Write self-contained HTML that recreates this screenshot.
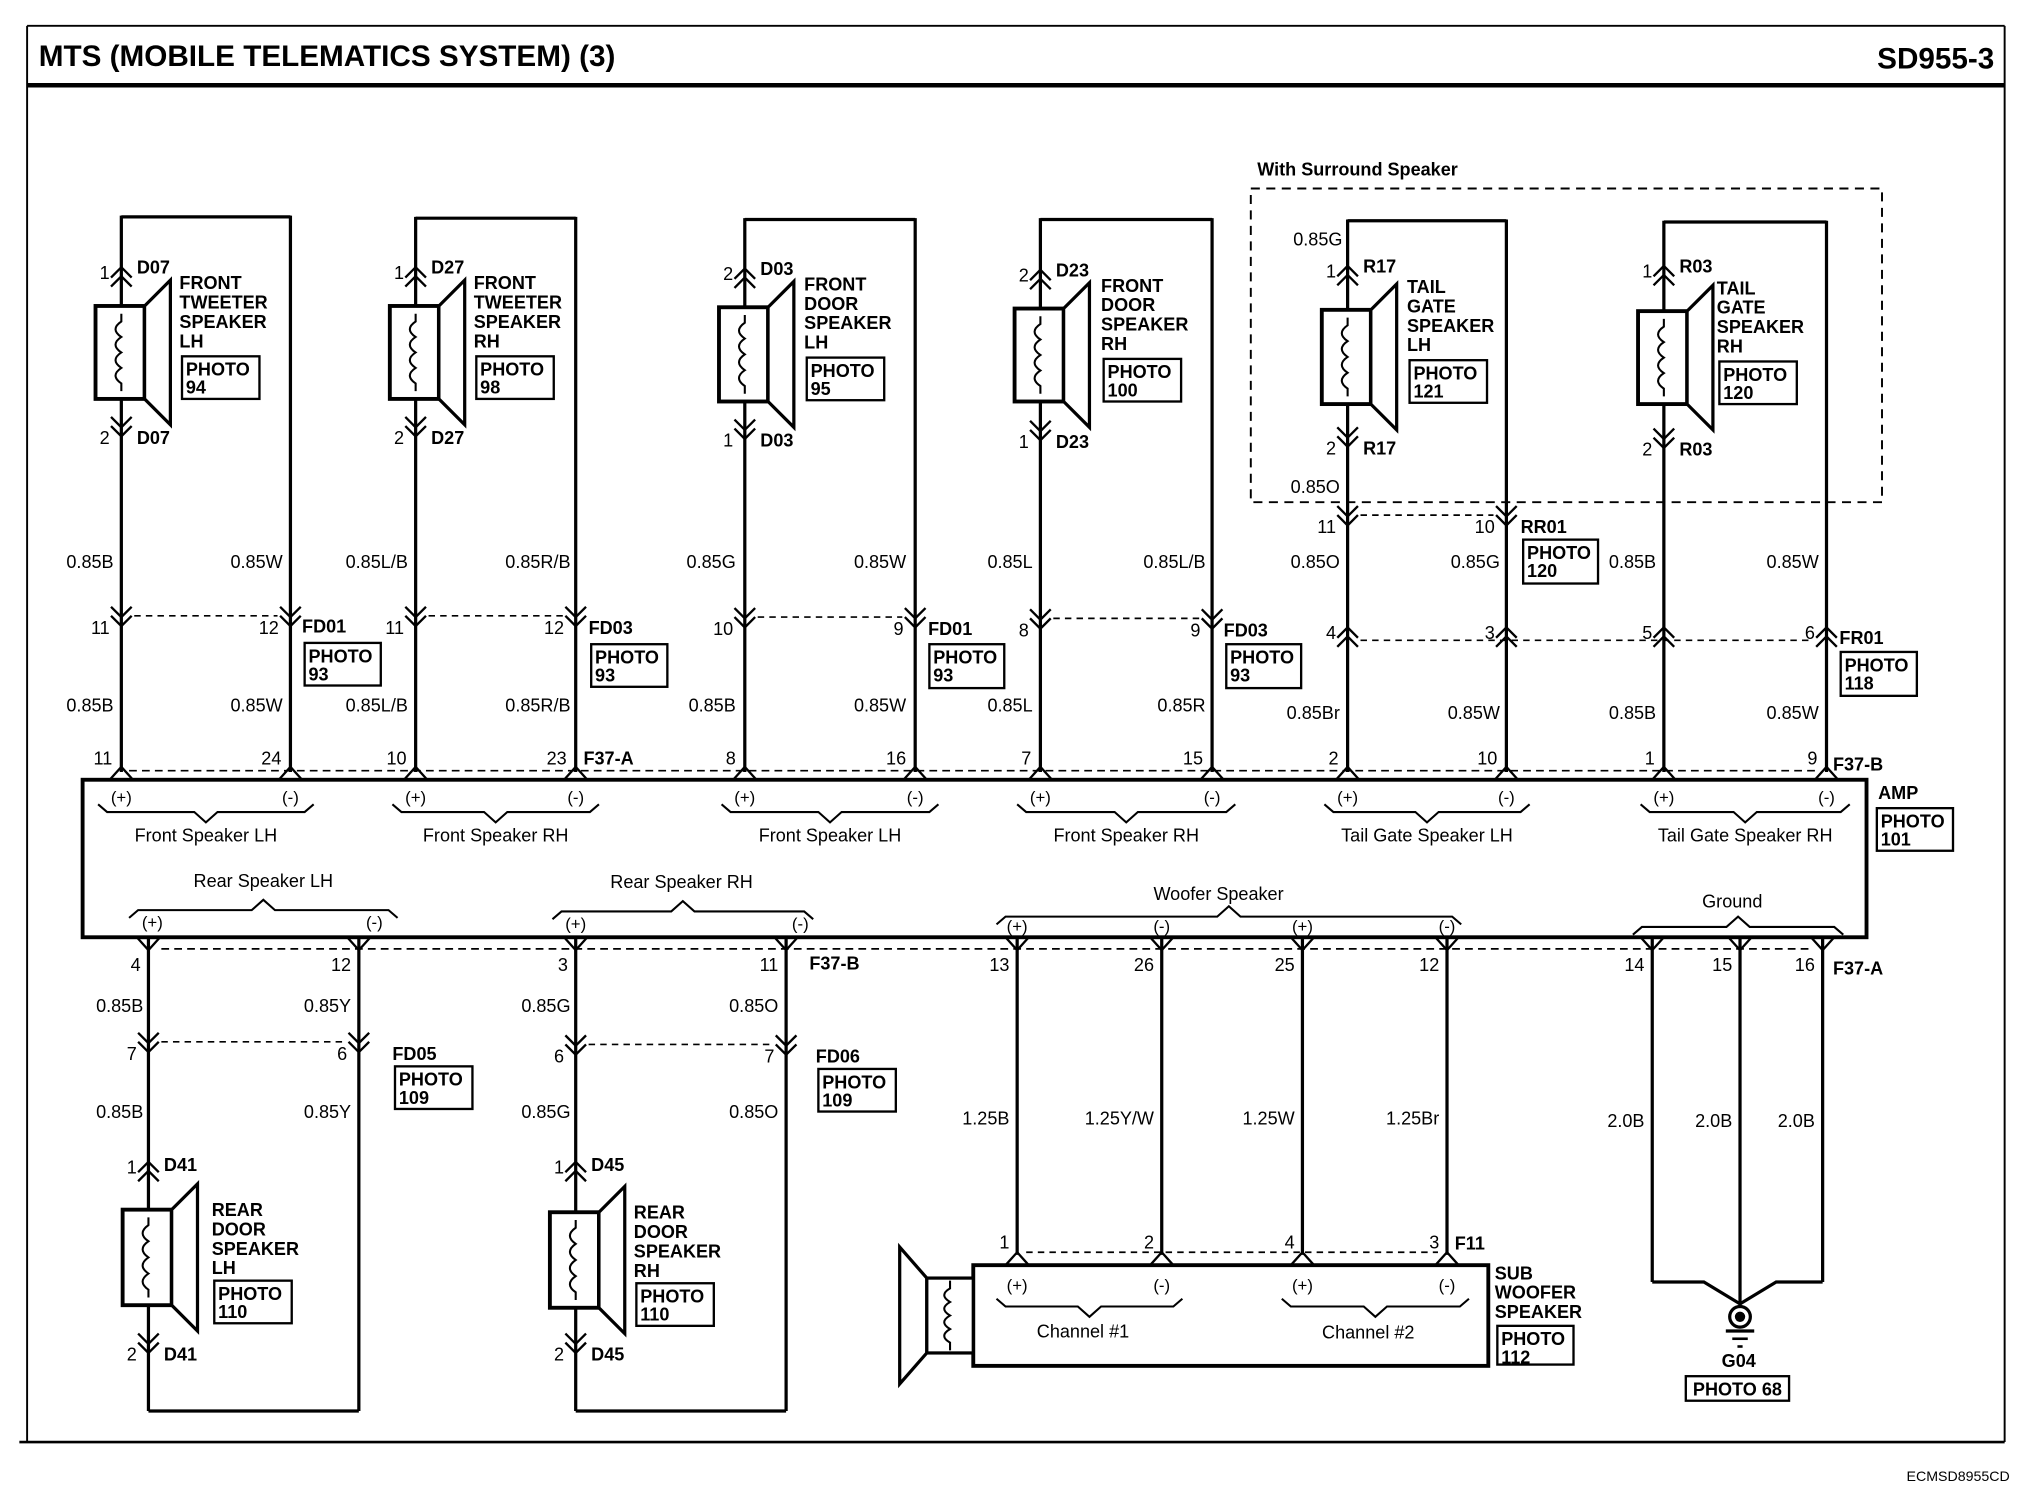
<!DOCTYPE html>
<html><head><meta charset="utf-8"><style>
html,body{margin:0;padding:0;background:#fff;}
svg{display:block;}
text{font-family:"Liberation Sans",sans-serif;fill:#000;}
</style></head><body>
<svg id="s" xmlns="http://www.w3.org/2000/svg" width="2024" height="1504" viewBox="0 0 1568 1165" preserveAspectRatio="none"></svg>
<script>
const o=[];
function L(x1,y1,x2,y2,w,d){o.push(`<line x1="${x1}" y1="${y1}" x2="${x2}" y2="${y2}" stroke="#000" stroke-width="${w||2.5}" ${d?'stroke-dasharray="'+d+'"':''}/>`);}
function PL(pts,w,fill){o.push(`<polyline points="${pts}" fill="${fill||'none'}" stroke="#000" stroke-width="${w||1.8}" stroke-linejoin="miter"/>`);}
function T(x,y,s,sz,b,a){o.push(`<text x="${x}" y="${y}" font-size="${sz||14}" ${b?'font-weight="bold"':''} text-anchor="${a||'start'}">${s}</text>`);}
function R(x,y,w,h,sw,fill){o.push(`<rect x="${x}" y="${y}" width="${w}" height="${h}" fill="${fill||'none'}" stroke="#000" stroke-width="${sw||1.8}"/>`);}
function photo(x,y,w,h,n){R(x,y,w,h,1.8);T(x+3,y+15,'PHOTO',14,1);T(x+3,y+29,n,14,1);}
function chev(x,y,dir){ // double chevron
  const s=dir=='up'?1:-1;
  PL(`${x-8},${y+8*s} ${x},${y} ${x+8},${y+8*s}`,1.8);
  PL(`${x-8},${y+15*s} ${x},${y+7*s} ${x+8},${y+15*s}`,1.8);
}
function tri(x,y,dir){const s=dir=='up'?1:-1;PL(`${x-9},${y+10*s} ${x},${y} ${x+9},${y+10*s}`,1.8);}
function coil(x,y0,y1){const n=4,h=(y1-y0)/n;let d=`M${x},${y0-6} L${x},${y0}`;for(let i=0;i<n;i++)d+=` q-9,${h/2} 0,${h}`;d+=` L${x},${y1+6}`;o.push(`<path d="${d}" fill="none" stroke="#000" stroke-width="1.6"/>`);}
function speaker(x,t,b){R(x-20,t,38,b-t,3,'#fff');coil(x,t+12,b-12);o.push(`<polygon points="${x+18},${t} ${x+38},${t-20} ${x+38},${b+20} ${x+18},${b}" fill="#fff" stroke="#000" stroke-width="2.5"/>`);}
function brace(x1,x2,y,dn){const m=(x1+x2)/2,s=dn?1:-1;PL(`${x1},${y-6*s} ${x1+7},${y} ${m-9},${y} ${m},${y+8*s} ${m+9},${y} ${x2-7},${y} ${x2},${y-6*s}`,1.6);}
function lines(x,y,arr){arr.forEach((s,i)=>T(x,y+i*15,s,14,1));}

// frame
L(21,20,1553,20,1.5);L(21,20,21,1117,1.5);L(1553,20,1553,1117,1.5);L(15,1117,1553,1117,2);
L(21,66,1553,66,3.5);
T(30,51,'MTS (MOBILE TELEMATICS SYSTEM) (3)',23,1);
T(1545,53,'SD955-3',23,1,'end');
T(1557,1147,'ECMSD8955CD',11,0,'end');

// surround box
R(969,146,489,243,1.5);o[o.length-1]=o[o.length-1].replace('/>',' stroke-dasharray="7,5"/>');
T(974,136,'With Surround Speaker',14,1);

// top speakers
const sp=[
 [94,225,168,207,237,309,338,'D07','1','2',['FRONT','TWEETER','SPEAKER','LH'],'94',139],
 [322,446,169,207,237,309,338,'D27','1','2',['FRONT','TWEETER','SPEAKER','RH'],'98',367],
 [577,709,170,208,238,311,340,'D03','2','1',['FRONT','DOOR','SPEAKER','LH'],'95',623],
 [806,939,170,209,239,311,341,'D23','2','1',['FRONT','DOOR','SPEAKER','RH'],'100',853],
 [1044,1167,171,206,240,313,346,'R17','1','2',['TAIL','GATE','SPEAKER','LH'],'121',1090],
 [1289,1415,172,206,241,313,347,'R03','1','2',['TAIL','GATE','SPEAKER','RH'],'120',1330]];
sp.forEach(a=>{const [l,r,t,p1,bt,bb,p2,c,n1,n2,lb,ph,lx]=a;
 L(l,t,r,t,2.5);L(l,t-1,l,598);L(r,t-1,r,598);
 speaker(l,bt,bb);
 chev(l,p1,'up');T(l-9,p1+9,n1,14,0,'end');T(l+12,p1+5,c,14,1);
 chev(l,p2,'down');T(l-9,p2+6,n2,14,0,'end');T(l+12,p2+6,c,14,1);
 lines(lx,bt-13,lb);photo(lx+2,bt+39,60,33,ph);
});
T(1040,190,'0.85G',14,0,'end');T(1038,382,'0.85O',14,0,'end');

// mid connectors row
function conn(xs,nums,y,dir,name,nx,ny){
 xs.forEach((x,i)=>{chev(x,y,dir);T(x-9,y+(dir=='up'?9:6),nums[i],14,0,'end');});
 L(xs[0]+10,dir=='up'?y+10:y-8,xs[xs.length-1]-10,dir=='up'?y+10:y-8,1.3,'5,4');
 if(name)T(nx,ny,name,14,1);
}
conn([94,225],['11','12'],485,'down','FD01',234,490);photo(236,498,59,33,'93');
conn([322,446],['11','12'],485,'down','FD03',456,491);photo(458,499,59,33,'93');
conn([577,709],['10','9'],486,'down','FD01',719,492);photo(720,499,58,34,'93');
conn([806,939],['8','9'],487,'down','FD03',948,493);photo(950,499,58,34,'93');
conn([1044,1167],['11','10'],407,'down','RR01',1178,413);photo(1180,418,58,34,'120');
conn([1044,1167,1289,1415],['4','3','5','6'],486,'up','FR01',1425,499);photo(1426,505,59,34,'118');

const w1=[[88,'0.85B'],[219,'0.85W'],[316,'0.85L/B'],[442,'0.85R/B'],[570,'0.85G'],[702,'0.85W'],[800,'0.85L'],[934,'0.85L/B'],[1038,'0.85O'],[1162,'0.85G'],[1283,'0.85B'],[1409,'0.85W']];
w1.forEach(a=>T(a[0],440,a[1],14,0,'end'));
const w2=[[88,'0.85B'],[219,'0.85W'],[316,'0.85L/B'],[442,'0.85R/B'],[570,'0.85B'],[702,'0.85W'],[800,'0.85L'],[934,'0.85R'],[1038,'0.85Br'],[1162,'0.85W'],[1283,'0.85B'],[1409,'0.85W']];
w2.forEach((a,i)=>T(a[0],i>=8?557:551,a[1],14,0,'end'));

// AMP
R(64,604,1382,122,3);
T(1455,619,'AMP',14,1);photo(1454,626,59,33,'101');
const ap=[[94,'11'],[225,'24'],[322,'10'],[446,'23'],[577,'8'],[709,'16'],[806,'7'],[939,'15'],[1044,'2'],[1167,'10'],[1289,'1'],[1415,'9']];
ap.forEach(a=>{tri(a[0],594,'up');T(a[0]-7,592,a[1],14,0,'end');});
L(100,597,1408,597,1.3,'6,4');
T(452,592,'F37-A',14,1);T(1420,597,'F37-B',14,1);
const grp=[[94,225,'Front Speaker LH'],[322,446,'Front Speaker RH'],[577,709,'Front Speaker LH'],[806,939,'Front Speaker RH'],[1044,1167,'Tail Gate Speaker LH'],[1289,1415,'Tail Gate Speaker RH']];
grp.forEach(g=>{T(g[0],622,'(+)',13,0,'middle');T(g[1],622,'(-)',13,0,'middle');brace(g[0]-18,g[1]+18,629,true);T((g[0]+g[1])/2,652,g[2],14,0,'middle');});
// lower groups
T(204,687,'Rear Speaker LH',14,0,'middle');brace(100,308,705,false);T(118,719,'(+)',13,0,'middle');T(290,719,'(-)',13,0,'middle');
T(528,688,'Rear Speaker RH',14,0,'middle');brace(428,630,706,false);T(446,720,'(+)',13,0,'middle');T(620,720,'(-)',13,0,'middle');
T(944,697,'Woofer Speaker',14,0,'middle');brace(772,1132,710,false);[[788,'(+)'],[900,'(-)'],[1009,'(+)'],[1121,'(-)']].forEach(a=>T(a[0],722,a[1],13,0,'middle'));
T(1342,703,'Ground',14,0,'middle');brace(1265,1428,718,false);

const bp=[[115,'4'],[278,'12'],[446,'3'],[609,'11'],[788,'13'],[900,'26'],[1009,'25'],[1121,'12'],[1280,'14'],[1348,'15'],[1412,'16']];
bp.forEach(a=>{tri(a[0],736,'down');T(a[0]-6,752,a[1],14,0,'end');});
L(125,735,1404,735,1.3,'6,4');
T(627,751,'F37-B',14,1);T(1420,755,'F37-A',14,1);

// rear speakers
function rear(l,r,fdn,n1,n2,fy,fname,fx,pb,dname,bt,lx,pv,wl,wr){
 L(l,726,l,1093);L(r,726,r,1093);L(l,1093,r,1093);
 T(l-4,784,wl,14,0,'end');T(r-6,784,wr,14,0,'end');
 T(l-4,866,wl,14,0,'end');T(r-6,866,wr,14,0,'end');
 conn([l,r],[n1,n2],fy,'down',fname,fx,fy+6);photo(fx+2,fy+11,60,33,pb);
 speaker(l,bt,bt+74);
 chev(l,900,'up');T(l-9,909,'1',14,0,'end');T(l+12,907,dname,14,1);
 chev(l,1048,'down');T(l-9,1054,'2',14,0,'end');T(l+12,1054,dname,14,1);
 lines(lx,bt+5,['REAR','DOOR','SPEAKER',l<300?'LH':'RH']);photo(lx+2,bt+55,60,33,'110');
}
rear(115,278,0,'7','6',815,'FD05',304,'109','D41',937,164,0,'0.85B','0.85Y');
rear(446,609,0,'6','7',817,'FD06',632,'109','D45',939,491,0,'0.85G','0.85O');

// woofer
[[788,'1.25B'],[900,'1.25Y/W'],[1009,'1.25W'],[1121,'1.25Br']].forEach(a=>{L(a[0],726,a[0],972);T(a[0]-6,871,a[1],14,0,'end');});
[[788,'1'],[900,'2'],[1009,'4'],[1121,'3']].forEach(a=>{tri(a[0],970,'up');T(a[0]-6,967,a[1],14,0,'end');});
L(795,970,1114,970,1.3,'5,4');T(1127,968,'F11',14,1);
R(754,980,399,78,3);
[[788,'(+)'],[900,'(-)'],[1009,'(+)'],[1121,'(-)']].forEach(a=>T(a[0],1000,a[1],13,0,'middle'));
brace(772,916,1012,true);brace(993,1138,1012,true);
T(839,1036,'Channel #1',14,0,'middle');T(1060,1037,'Channel #2',14,0,'middle');
lines(1158,991,['SUB','WOOFER','SPEAKER']);photo(1160,1027,59,30,'112');
o.push(`<polygon points="718,990 697,966 697,1072 718,1048" fill="#fff" stroke="#000" stroke-width="2.5"/>`);
R(718,990,36,58,2.5,'#fff');coil(736,998,1040);

// ground
L(1280,726,1280,993);L(1412,726,1412,993);L(1348,726,1348,1012);
PL('1280,993 1320,993 1348,1010 1376,993 1412,993',2.5);
o.push(`<circle cx="1348" cy="1020" r="8" fill="#fff" stroke="#000" stroke-width="2.5"/><circle cx="1348" cy="1020" r="4" fill="#000"/>`);
L(1337,1031,1359,1031,2.5);L(1342,1037,1354,1037,2);L(1346,1043,1350,1043,2);
[[1274,'2.0B'],[1342,'2.0B'],[1406,'2.0B']].forEach(a=>T(a[0],873,a[1],14,0,'end'));
T(1347,1059,'G04',14,1,'middle');R(1306,1066,80,19,1.8);T(1346,1081,'PHOTO 68',14,1,'middle');

document.getElementById('s').innerHTML=o.join('');
</script>
</body></html>
